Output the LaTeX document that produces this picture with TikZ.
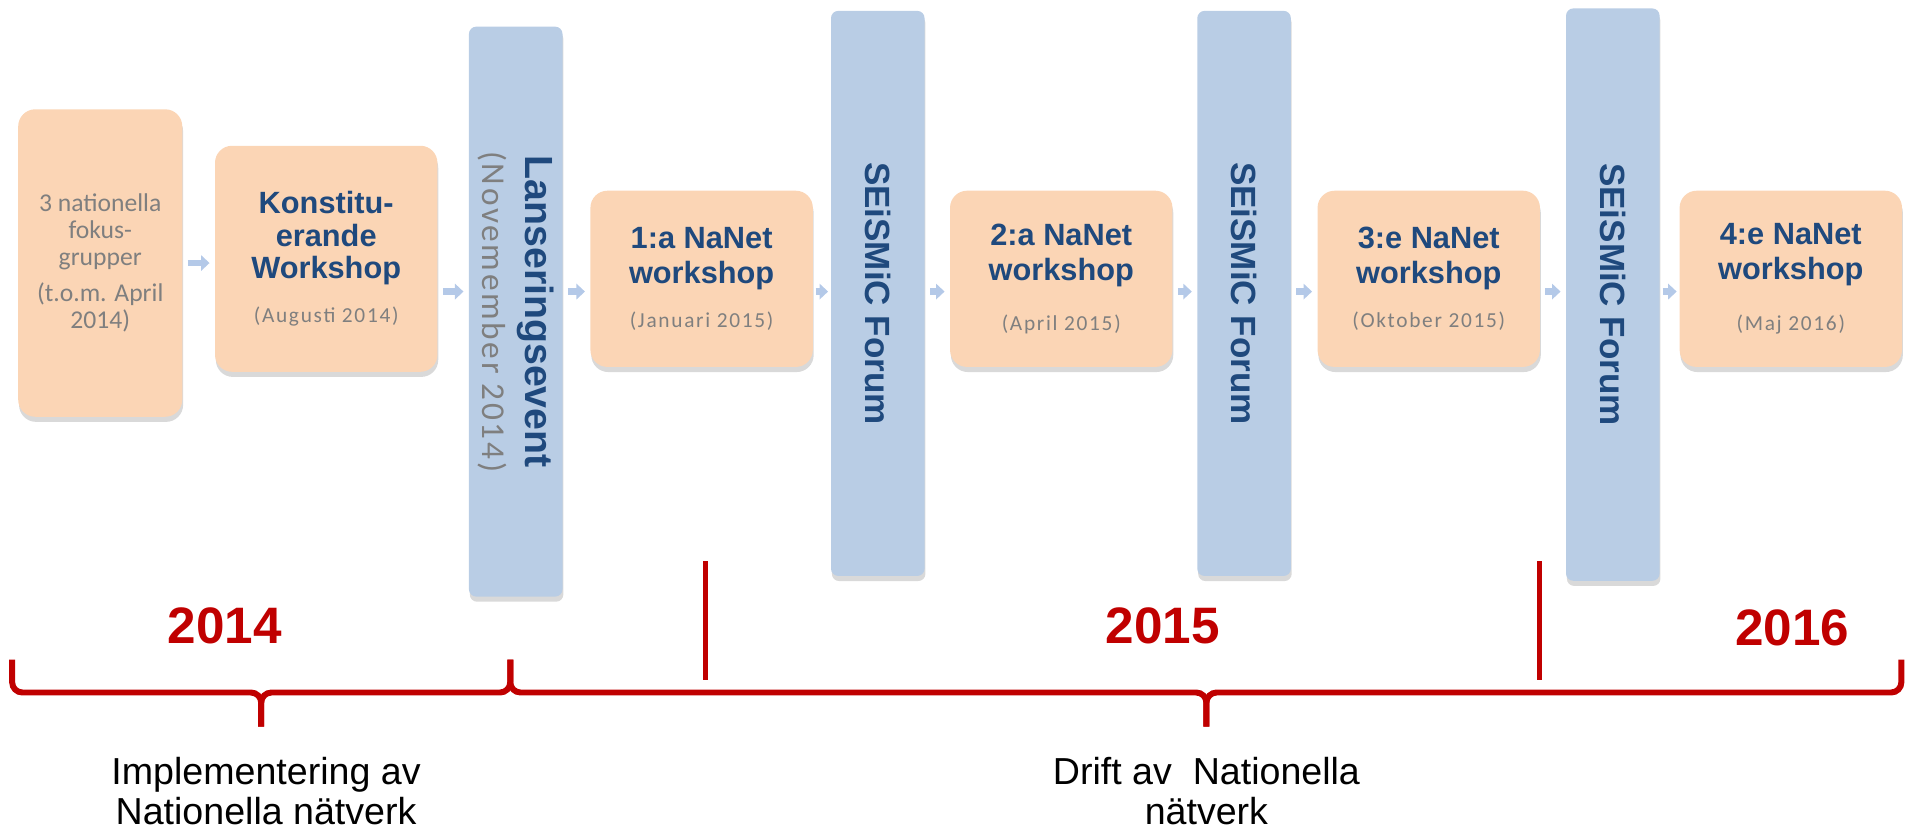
\documentclass[tikz,border=0pt]{standalone}
\usepackage{fontspec}
\setmainfont{Liberation Sans}
\newfontfamily\datefont[LetterSpace=8]{Carlito}
\newfontfamily\notefont{Carlito}
\usepackage{tikz}
\usetikzlibrary{arrows.meta,shadows}
\definecolor{peach}{HTML}{FBD5B5}
\definecolor{barblue}{HTML}{B9CDE5}
\definecolor{arrowblue}{HTML}{B4C9E8}
\definecolor{titleblue}{HTML}{1F497D}
\definecolor{dategrey}{HTML}{7F7F7F}
\definecolor{yearred}{HTML}{C00000}
\newcommand{\wsdate}[1]{{\mdseries\datefont\fontsize{12.5}{14}\selectfont\color{dategrey}#1}}
\tikzstyle{tl_box} = [rectangle, rounded corners=0.35cm, fill=peach, align=center, inner sep=0pt, text=titleblue, font=\bfseries\fontsize{18}{20.5}\selectfont, drop shadow={shadow xshift=0.5pt, shadow yshift=-3pt, opacity=0.3}]
\tikzstyle{tl_bar} = [rectangle, rounded corners=0.15cm, fill=barblue, minimum width=1.925cm, inner sep=0pt, drop shadow={shadow xshift=0.5pt, shadow yshift=-3pt, opacity=0.3}]
\tikzstyle{bar_text} = [rotate=-90, text=titleblue, align=center, font=\bfseries\fontsize{20.5}{24}\selectfont]
\tikzstyle{tl_arrow} = [->, draw=arrowblue, line width=4pt, shorten <=3pt, shorten >=3pt]
\tikzstyle{yr_label} = [text=yearred, font=\bfseries\fontsize{30}{36}\selectfont]
\tikzstyle{phase_label} = [align=center, font=\fontsize{22}{23.5}\selectfont]
\tikzstyle{red_brace} = [draw=yearred, line width=3.5pt, rounded corners=6pt]
\tikzstyle{red_rule} = [draw=yearred, line width=3pt]

\begin{document}
\begin{tikzpicture}[x=0.025cm, y=-0.025cm, >={Triangle[length=5pt,width=9pt]}]
\useasboundingbox (0,0) rectangle (1568,682);

% boxes and bars
\node [tl_box, minimum width=3.375cm, minimum height=6.325cm, text=dategrey, font=\notefont\fontsize{15}{15.6}\selectfont] (fokus) at (82.5,216.5)
    {3 nationella\\fokus-\\grupper\\[6pt](t.o.m. April\\2014)};
\node [tl_box, minimum width=4.575cm, minimum height=4.65cm, font=\bfseries\fontsize{18}{18.8}\selectfont] (konst) at (268.5,213)
    {Konstitu-\\erande\\Workshop\\[7pt]\wsdate{(Augusti 2014)}};
\node [tl_bar, minimum height=11.725cm] (lans) at (424.5,256.5) {};
\node [bar_text, font=\bfseries\fontsize{23}{25}\selectfont] (lans txt) at (lans)
    {Lanseringsevent\\{\mdseries\datefont\fontsize{19.5}{23}\selectfont\color{dategrey}(Novemember 2014)}};
\node [tl_box, minimum width=4.575cm, minimum height=3.625cm] (ws1) at (577.5,229.5)
    {1:a NaNet\\workshop\\[5pt]\wsdate{(Januari 2015)}};
\node [tl_bar, minimum height=11.625cm] (forum1) at (722.5,241.5) {};
\node [bar_text] (forum1 txt) at (forum1) {SEiSMiC Forum};
\node [tl_box, minimum width=4.575cm, minimum height=3.625cm] (ws2) at (873.5,229.5)
    {2:a NaNet\\workshop\\[9pt]\wsdate{(April 2015)}};
\node [tl_bar, minimum height=11.625cm] (forum2) at (1024,241.5) {};
\node [bar_text] (forum2 txt) at (forum2) {SEiSMiC Forum};
\node [tl_box, minimum width=4.575cm, minimum height=3.625cm] (ws3) at (1176,229.5)
    {3:e NaNet\\workshop\\[5pt]\wsdate{(Oktober 2015)}};
\node [tl_bar, minimum height=11.775cm] (forum3) at (1327.5,242.5) {};
\node [bar_text] (forum3 txt) at (forum3) {SEiSMiC Forum};
\node [tl_box, minimum width=4.575cm, minimum height=3.625cm] (ws4) at (1474,229.5)
    {4:e NaNet\\workshop\\[9pt]\wsdate{(Maj 2016)}};

% small arrows
\coordinate (row) at (0,240);
\draw [tl_arrow] (fokus.east) -- (fokus.east -| konst.west);
\draw [tl_arrow] (konst.east |- row) -- (lans.west |- row);
\draw [tl_arrow] (lans.east |- row) -- (ws1.west |- row);
\draw [tl_arrow, shorten <=1.5pt, shorten >=1.5pt] (ws1.east |- row) -- (forum1.west |- row);
\draw [tl_arrow] (forum1.east |- row) -- (ws2.west |- row);
\draw [tl_arrow] (ws2.east |- row) -- (forum2.west |- row);
\draw [tl_arrow] (forum2.east |- row) -- (ws3.west |- row);
\draw [tl_arrow] (ws3.east |- row) -- (forum3.west |- row);
\draw [tl_arrow, shorten <=1.5pt, shorten >=1.5pt] (forum3.east |- row) -- (ws4.west |- row);

% years
\node [yr_label] (y2014) at (185,515) {2014};
\node [yr_label] (y2015) at (957,515) {2015};
\node [yr_label] (y2016) at (1475,517) {2016};
\coordinate (div1 top) at (581,462);
\coordinate (div1 bot) at (581,560);
\coordinate (div2 top) at (1267,462);
\coordinate (div2 bot) at (1267,560);
\draw [red_rule] (div1 top) -- (div1 bot);
\draw [red_rule] (div2 top) -- (div2 bot);

% braces
\coordinate (br1 l) at (10,543);
\coordinate (br1 r) at (420,543);
\coordinate (br2 r) at (1565,543);
\coordinate (br1 tip) at (215,598);
\coordinate (br2 tip) at (993,598);
\coordinate (br line) at (0,570);
\draw [red_brace] (br1 l) |- (br1 tip |- br line) -- (br1 tip);
\draw [red_brace] (br1 r) |- (br1 tip |- br line) -- (br1 tip);
\draw [red_brace] (br1 r) |- (br2 tip |- br line) -- (br2 tip);
\draw [red_brace] (br2 r) |- (br2 tip |- br line) -- (br2 tip);

\node [phase_label] (impl) at (219,651) {Implementering av\\Nationella nätverk};
\node [phase_label] (drift) at (993,651) {Drift av\ \ Nationella\\nätverk};
\end{tikzpicture}
\end{document}
